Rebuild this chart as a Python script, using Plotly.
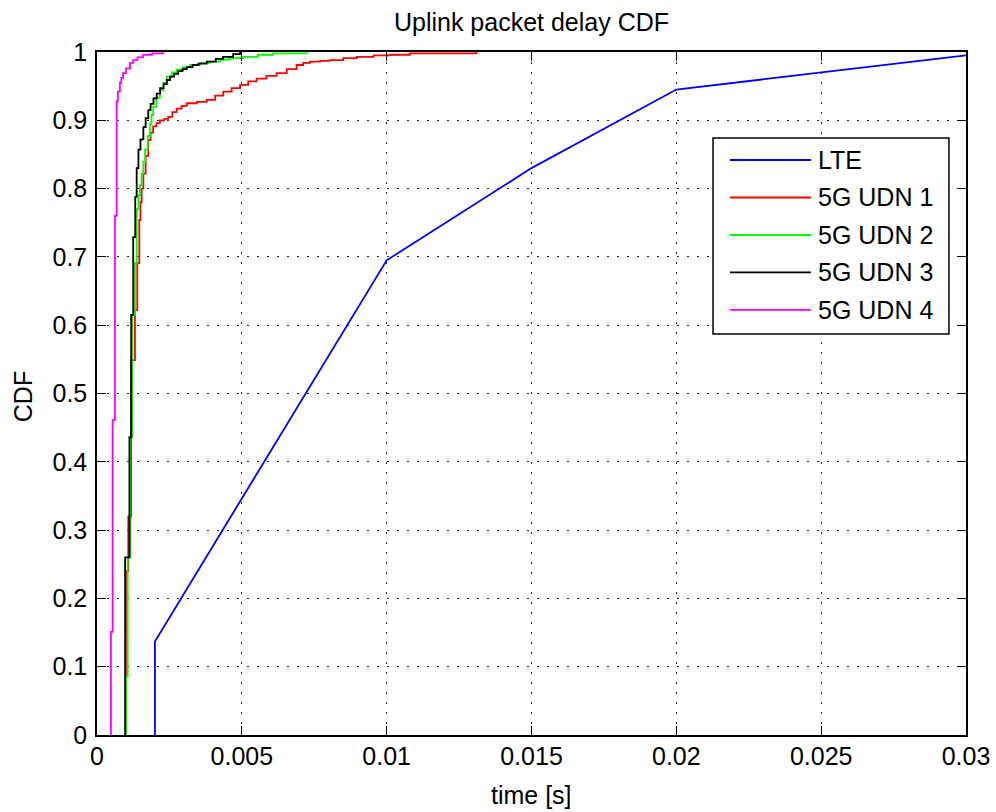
import plotly.graph_objects as go

# ---- data -------------------------------------------------------------
series_names = ["LTE", "5G UDN 1", "5G UDN 2", "5G UDN 3", "5G UDN 4"]
series_colors = ["#0000ff", "#ff0000", "#00ff00", "#000000", "#ff00ff"]

lte_delay = [0.002, 0.002, 0.010, 0.015, 0.020, 0.030]
lte_cdf = [0.0, 0.137, 0.695, 0.830, 0.945, 0.995]

udn1_delay = [0.00100, 0.00100, 0.00108, 0.00118, 0.00131, 0.00139, 0.00146,
              0.00150, 0.00154, 0.00160, 0.00168, 0.00177, 0.00185, 0.00194,
              0.00205, 0.00217, 0.00232, 0.00246, 0.00260, 0.00275, 0.00292,
              0.00310, 0.00345, 0.00379, 0.00408, 0.00436, 0.00465, 0.00494,
              0.00522, 0.00551, 0.00585, 0.00620, 0.00655, 0.00689, 0.00712,
              0.00735, 0.00770, 0.00804, 0.00850, 0.00897, 0.00955, 0.01012,
              0.01080, 0.01310]
udn1_cdf = [0.0, 0.24, 0.32, 0.549, 0.622, 0.691, 0.754,
            0.780, 0.800, 0.822, 0.848, 0.871, 0.882, 0.891,
            0.896, 0.900, 0.902, 0.905, 0.912, 0.917, 0.921,
            0.925, 0.927, 0.930, 0.936, 0.942, 0.947, 0.952,
            0.957, 0.961, 0.965, 0.969, 0.975, 0.981, 0.984,
            0.986, 0.987, 0.988, 0.991, 0.993, 0.995, 0.996,
            0.998, 1.0]

udn2_delay = [0.00100, 0.00100, 0.00106, 0.00115, 0.00121, 0.00131, 0.00137,
              0.00143, 0.00148, 0.00154, 0.00160, 0.00166, 0.00175, 0.00183,
              0.00188, 0.00194, 0.00205, 0.00217, 0.00229, 0.00241, 0.00258,
              0.00275, 0.00298, 0.00321, 0.00355, 0.00390, 0.00425, 0.00459,
              0.00504, 0.00555, 0.00608, 0.00724]
udn2_cdf = [0.0, 0.085, 0.26, 0.436, 0.615, 0.691, 0.770,
            0.790, 0.805, 0.822, 0.840, 0.857, 0.877, 0.895,
            0.908, 0.920, 0.933, 0.944, 0.955, 0.964, 0.970,
            0.974, 0.978, 0.981, 0.984, 0.986, 0.989, 0.991,
            0.993, 0.996, 0.998, 1.0]

udn3_delay = [0.00097, 0.00097, 0.00112, 0.00118, 0.00125, 0.00132, 0.00137,
              0.00143, 0.00150, 0.00160, 0.00168, 0.00177, 0.00185, 0.00195,
              0.00206, 0.00218, 0.00230, 0.00241, 0.00252, 0.00266, 0.00280,
              0.00295, 0.00310, 0.00330, 0.00350, 0.00379, 0.00410, 0.00435,
              0.00470, 0.00494]
udn3_cdf = [0.0, 0.26, 0.436, 0.615, 0.729, 0.788, 0.830,
            0.857, 0.872, 0.890, 0.903, 0.915, 0.924, 0.932,
            0.939, 0.947, 0.953, 0.959, 0.964, 0.968, 0.972,
            0.975, 0.978, 0.981, 0.983, 0.986, 0.990, 0.993,
            0.997, 1.0]

udn4_delay = [0.00048, 0.00048, 0.00054, 0.00062, 0.00068, 0.00072, 0.00079,
              0.00084, 0.00090, 0.00100, 0.00114, 0.00125, 0.00140, 0.00159,
              0.00190, 0.00228]
udn4_cdf = [0.0, 0.151, 0.461, 0.760, 0.928, 0.942, 0.955,
            0.962, 0.969, 0.976, 0.984, 0.988, 0.992, 0.996,
            0.998, 1.0]

x_tickvals = [0, 0.005, 0.01, 0.015, 0.02, 0.025, 0.03]
x_ticktext = ["0", "0.005", "0.01", "0.015", "0.02", "0.025", "0.03"]
y_tickvals = [0, 0.1, 0.2, 0.3, 0.4, 0.5, 0.6, 0.7, 0.8, 0.9, 1.0]
y_ticktext = ["0", "0.1", "0.2", "0.3", "0.4", "0.5", "0.6", "0.7", "0.8", "0.9", "1"]

# ---- figure -----------------------------------------------------------
FONT = "Liberation Sans, Arial, Helvetica, sans-serif"
TEXT = dict(family=FONT, size=25, color="black")
fig = go.Figure()

curves = [
    (lte_delay, lte_cdf, "linear"),
    (udn1_delay, udn1_cdf, "hv"),
    (udn2_delay, udn2_cdf, "hv"),
    (udn3_delay, udn3_cdf, "hv"),
    (udn4_delay, udn4_cdf, "hv"),
]
for (xs, ys, shape), name, color in zip(curves, series_names, series_colors):
    fig.add_trace(go.Scatter(
        x=xs, y=ys, mode="lines", name=name,
        line=dict(color=color, width=1.8, shape=shape),
        showlegend=False, hoverinfo="skip",
    ))

axis_common = dict(
    showline=True, linecolor="black", linewidth=1.5, mirror="allticks",
    ticks="inside", ticklen=9, tickwidth=1.2, tickcolor="black",
    showgrid=True, gridcolor="#222222", gridwidth=1, griddash="2px,8px",
    zeroline=False, tickfont=TEXT, automargin=False,
)

fig.update_xaxes(range=[0, 0.03], tickvals=x_tickvals, ticktext=x_ticktext,
                 ticklabelstandoff=-2, **axis_common)
fig.update_yaxes(range=[0, 1], tickvals=y_tickvals, ticktext=y_ticktext,
                 ticklabelstandoff=3, **axis_common)

# ---- axis titles ------------------------------------------------------
annotations = [
    dict(xref="paper", yref="paper", x=0.5, y=-0.088, text="time [s]",
         showarrow=False, xanchor="center", yanchor="middle", font=TEXT),
    dict(xref="paper", yref="paper", x=-0.0852, y=0.496, text="CDF", textangle=-90,
         showarrow=False, xanchor="center", yanchor="middle", font=TEXT),
]

# ---- legend box drawn in axes-fraction coordinates ---------------------
leg_x0, leg_x1 = 0.7089, 0.9804
leg_y0, leg_y1 = 0.5871, 0.8741
line_x0, line_x1 = 0.7284, 0.8216
text_x = 0.8275
row_y = [0.8419, 0.7870, 0.7321, 0.6772, 0.6223]

shapes = [dict(type="rect", xref="paper", yref="paper",
               x0=leg_x0, x1=leg_x1, y0=leg_y0, y1=leg_y1,
               line=dict(color="black", width=1.5), fillcolor="white", layer="above")]
for name, color, yy in zip(series_names, series_colors, row_y):
    shapes.append(dict(type="line", xref="paper", yref="paper",
                       x0=line_x0, x1=line_x1, y0=yy, y1=yy,
                       line=dict(color=color, width=1.8), layer="above"))
    annotations.append(dict(xref="paper", yref="paper", x=text_x, y=yy,
                            text=name, showarrow=False, xanchor="left", yanchor="middle",
                            font=TEXT))

fig.update_layout(
    width=996, height=812,
    margin=dict(l=97, r=30, t=52, b=77),
    paper_bgcolor="white", plot_bgcolor="white",
    title=dict(text="Uplink packet delay CDF", x=0.5, xref="paper", xanchor="center",
               y=1 - 22 / 812, yref="container", yanchor="middle", font=TEXT),
    shapes=shapes, annotations=annotations,
)

fig.write_html("out.html")
